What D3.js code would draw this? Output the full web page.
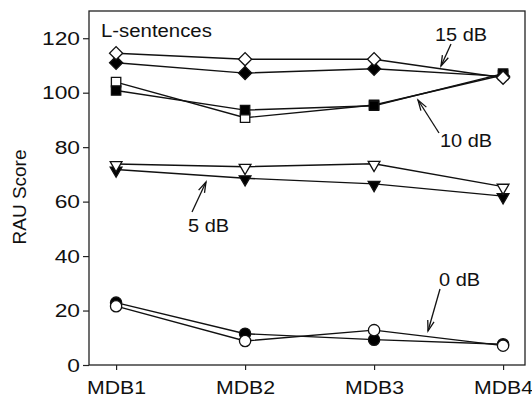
<!DOCTYPE html>
<html><head><meta charset="utf-8">
<script src="https://cdn.jsdelivr.net/npm/d3@7"></script>
<style>
html,body{margin:0;padding:0;background:#fff;}
svg{display:block;font-family:"Liberation Sans",Arial,sans-serif;}
</style></head>
<body><svg id="c" width="532" height="399"></svg>
<script>
const categories = ["MDB1","MDB2","MDB3","MDB4"];
const yTicks = [0,20,40,60,80,100,120];
const s15open   = [114.5,112.3,112.3,105.5];
const s15filled = [111.0,107.2,108.8,106.0];
const s10filled = [100.8,93.6,95.2,107.0];
const s10open   = [103.9,90.8,95.5,106.5];
const s5open    = [73.8,72.8,73.9,65.5];
const s5filled  = [71.8,68.6,66.5,62.0];
const s0filled  = [22.9,11.5,9.3,7.6];
const s0open    = [21.6,8.8,12.8,7.1];

const series = [
  {v:s0filled, sym:"circle", fill:"#000"},
  {v:s0open, sym:"circle", fill:"#fff"},
  {v:s5filled, sym:"tri", fill:"#000"},
  {v:s5open, sym:"tri", fill:"#fff"},
  {v:s10open, sym:"square", fill:"#fff"},
  {v:s10filled, sym:"square", fill:"#000"},
  {v:s15filled, sym:"diamond", fill:"#000"},
  {v:s15open, sym:"diamond", fill:"#fff"}
];

const L=89, R=525, T=11, B=365;
const svg = d3.select("#c");
const x = d3.scaleLinear().domain([-0.21,3.17]).range([L,R]);
const y = d3.scaleLinear().domain([0,130]).range([B,T]);

// frame
svg.append("rect").attr("x",L).attr("y",T).attr("width",R-L).attr("height",B-T)
  .attr("fill","none").attr("stroke","#222").attr("stroke-width",1.3);

const ya = svg.append("g").attr("transform",`translate(${L},0)`)
  .call(d3.axisLeft(y).tickValues(yTicks).tickSize(6).tickPadding(3));
ya.select(".domain").remove();
ya.selectAll("text").attr("font-size",19).attr("fill","#111")
  .attr("font-family","Liberation Sans, Arial, sans-serif")
  .attr("x",0).attr("transform","translate(-9,0) scale(1.2,1)");
ya.selectAll("line").attr("stroke","#222").attr("stroke-width",1.2);

const xa = svg.append("g").attr("transform",`translate(0,${B})`)
  .call(d3.axisBottom(x).tickValues([0,1,2,3]).tickFormat(i=>categories[i]).tickSize(5).tickPadding(11));
xa.select(".domain").remove();
xa.selectAll("text").attr("font-size",19).attr("fill","#111")
  .attr("font-family","Liberation Sans, Arial, sans-serif")
  .attr("transform","scale(1.12,1)");
xa.selectAll("line").attr("stroke","#222").attr("stroke-width",1.2);

svg.append("text").attr("transform","translate(26,197) rotate(-90)")
  .attr("text-anchor","middle").attr("font-size",19).attr("fill","#111").text("RAU Score");

const line = d3.line().x((d,i)=>x(i)).y(d=>y(d));
series.forEach(s=>{
  svg.append("path").attr("d",line(s.v)).attr("fill","none")
    .attr("stroke","#111").attr("stroke-width",1.4);
});

const symMap = {
  circle: {t:d3.symbolCircle, size:100, rot:0},
  tri: {t:d3.symbolTriangle, size:60, rot:180},
  square: {t:d3.symbolSquare, size:88, rot:0},
  diamond: {t:d3.symbolSquare, size:86, rot:45}
};
series.forEach(s=>{
  const m = symMap[s.sym];
  svg.append("g").selectAll("path").data(s.v).join("path")
    .attr("d",d3.symbol().type(m.t).size(m.size))
    .attr("transform",(d,i)=>`translate(${x(i)},${y(d)+(s.sym==="tri"?1:0)}) rotate(${m.rot})`)
    .attr("fill",s.fill).attr("stroke","#111").attr("stroke-width",1.3);
});

// labels
svg.append("text").attr("transform","translate(101,37) scale(1.1,1)").attr("font-size",18.5).attr("fill","#111").text("L-sentences");

const ann = [
  {t:"15 dB", tx:435, ty:41, x1:451, y1:44, x2:441, y2:66},
  {t:"10 dB", tx:440, ty:147, x1:439, y1:133, x2:418, y2:100},
  {t:"5 dB", tx:188, ty:232, x1:192, y1:212, x2:206, y2:182},
  {t:"0 dB", tx:439, ty:286, x1:440, y1:289, x2:428, y2:331}
];
ann.forEach(a=>{
  svg.append("text").attr("transform",`translate(${a.tx},${a.ty}) scale(1.05,1)`).attr("font-size",19).attr("fill","#111").text(a.t);
  svg.append("line").attr("x1",a.x1).attr("y1",a.y1).attr("x2",a.x2).attr("y2",a.y2)
    .attr("stroke","#111").attr("stroke-width",1.3);
  const ang = Math.atan2(a.y2-a.y1, a.x2-a.x1);
  const hl = 11, hw = 0.3;
  const p1 = [a.x2 - hl*Math.cos(ang-hw), a.y2 - hl*Math.sin(ang-hw)];
  const p2 = [a.x2 - hl*Math.cos(ang+hw), a.y2 - hl*Math.sin(ang+hw)];
  svg.append("path").attr("d",`M${p1[0]},${p1[1]}L${a.x2},${a.y2}L${p2[0]},${p2[1]}`)
    .attr("fill","none").attr("stroke","#111").attr("stroke-width",1.3);
});
</script></body></html>
